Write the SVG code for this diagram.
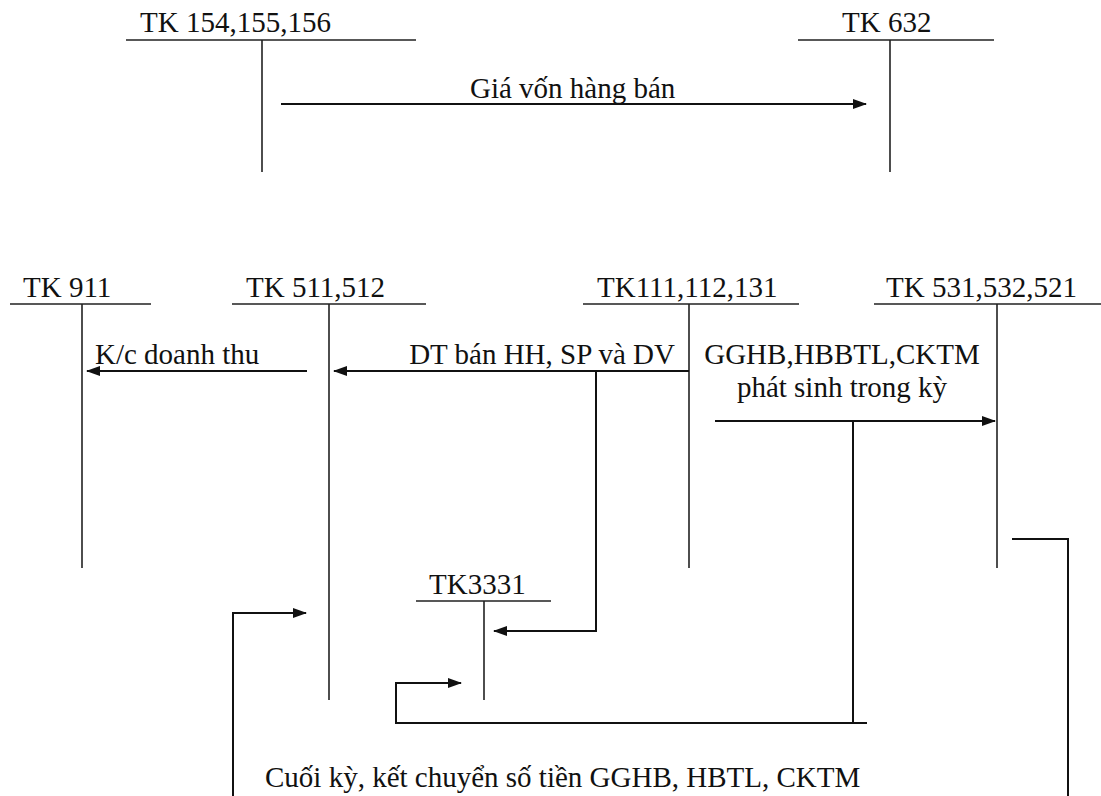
<svg xmlns="http://www.w3.org/2000/svg" width="1101" height="796" viewBox="0 0 1101 796">
<style>
text{font-family:"Liberation Serif","Times New Roman",serif;font-size:29px;fill:#111}
.t{stroke:#222;stroke-width:1.6;fill:none}
.c{stroke:#111;stroke-width:2;fill:none}
</style>
<defs>
<marker id="ah" viewBox="0 0 14 10" refX="13" refY="5" markerWidth="14" markerHeight="10" markerUnits="userSpaceOnUse" orient="auto">
<path d="M0,0 L14,5 L0,10 Z" fill="#111"/>
</marker>
</defs>
<rect width="1101" height="796" fill="#fff"/>
<g id="tk154">
<text x="140" y="32">TK 154,155,156</text>
<path class="t" d="M126,40 H416 M262,40 V172"/>
</g>
<g id="tk632">
<text x="842" y="32">TK 632</text>
<path class="t" d="M798,40 H994 M890,40 V172"/>
</g>
<g id="tk911">
<text x="23" y="297">TK 911</text>
<path class="t" d="M10,304 H151 M82,304 V568"/>
</g>
<g id="tk511">
<text x="246" y="297">TK 511,512</text>
<path class="t" d="M232,304 H426 M329,304 V700"/>
</g>
<g id="tk111">
<text x="597" y="297">TK111,112,131</text>
<path class="t" d="M583,304 H799 M689,304 V568"/>
</g>
<g id="tk531">
<text x="886" y="297">TK 531,532,521</text>
<path class="t" d="M874,304 H1101 M997,304 V568"/>
</g>
<g id="tk3331">
<text x="429" y="594">TK3331</text>
<path class="t" d="M416,601 H551 M484,601 V700"/>
</g>
<g id="connectors">
<path class="c" d="M281,104 H866" marker-end="url(#ah)"/>
<path class="c" d="M307,371 H87" marker-end="url(#ah)"/>
<path class="c" d="M689,371 H334" marker-end="url(#ah)"/>
<path class="c" d="M596,371 V631 H494" marker-end="url(#ah)"/>
<path class="c" d="M715,421 H995" marker-end="url(#ah)"/>
<path class="c" d="M853,421 V723"/>
<path class="c" d="M867,723 H396 V683 H461" marker-end="url(#ah)"/>
<path class="c" d="M1012,539 H1068 V796"/>
<path class="c" d="M233,796 V613 H306" marker-end="url(#ah)"/>
</g>
<g id="labels">
<text x="470" y="98">Giá vốn hàng bán</text>
<text x="95" y="364">K/c doanh thu</text>
<text x="675" y="364" text-anchor="end">DT bán HH, SP và DV</text>
<text x="842" y="364" text-anchor="middle">GGHB,HBBTL,CKTM</text>
<text x="842" y="397" text-anchor="middle">phát sinh trong kỳ</text>
<text x="265" y="787">Cuối kỳ, kết chuyển số tiền GGHB, HBTL, CKTM</text>
</g>
</svg>
